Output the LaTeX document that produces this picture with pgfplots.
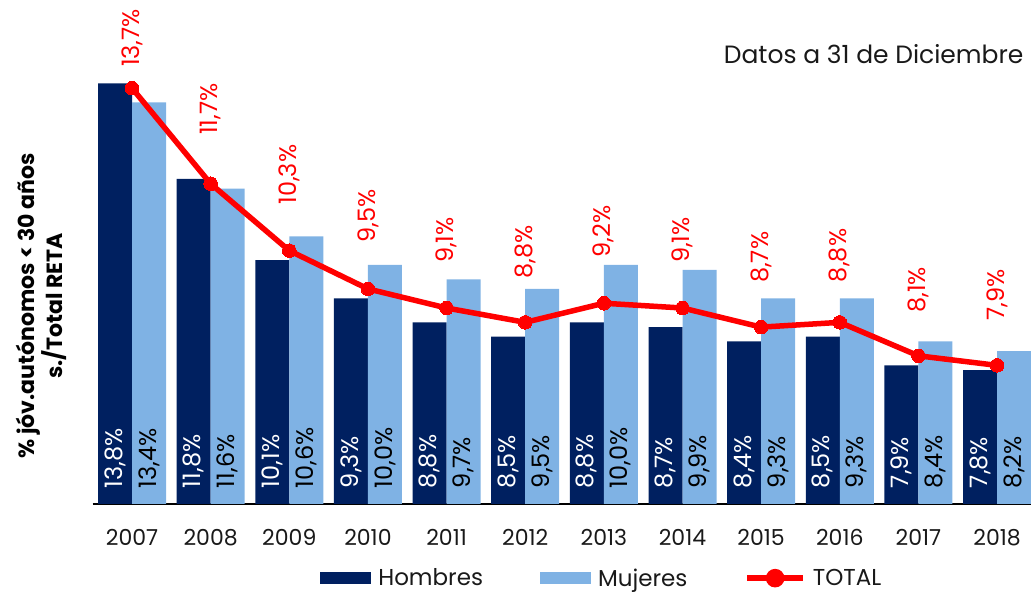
\documentclass[border=0pt]{standalone}
\usepackage{fontspec}
\setmainfont{Poppins}
\usepackage{pgfplots}
\usepackage{pgfplotstable}
\pgfplotsset{compat=1.18}
\definecolor{navy}{HTML}{002060}
\definecolor{lblue}{HTML}{7FB2E4}
\definecolor{rojo}{HTML}{FF0000}
\newcommand\fs{\fontsize{22}{27}\selectfont}
\newcommand\fl{\fontsize{23}{28}\selectfont}
\newcommand\fd{\fontsize{24}{28}\selectfont}
\newcommand\pct{\pgfmathprintnumber[fixed,fixed zerofill,precision=1,use comma,assume math mode=true]{\pgfplotspointmeta}\%}

\pgfplotstableread{
idx h m t
0 13.8 13.4 13.7
1 11.8 11.6 11.7
2 10.1 10.6 10.3
3 9.3 10.0 9.5
4 8.8 9.7 9.1
5 8.5 9.5 8.8
6 8.8 10.0 9.2
7 8.7 9.9 9.1
8 8.4 9.3 8.7
9 8.5 9.3 8.8
10 7.9 8.4 8.1
11 7.8 8.2 7.9
}\datos

% position (base) of the red TOTAL labels
\pgfplotstableread{
idx y t
0 14.14 13.7
1 12.72 11.7
2 11.26 10.3
3 10.46 9.5
4 10.04 9.1
5 9.71 8.8
6 10.15 9.2
7 10.04 9.1
8 9.62 8.7
9 9.64 8.8
10 9.00 8.1
11 8.83 7.9
}\etiq

\begin{document}
\begin{tikzpicture}
\useasboundingbox (0,0) rectangle (1031pt,596pt);
\clip (0,0) rectangle (1031pt,596pt);
\begin{axis}[
  at={(92.7pt,92pt)}, anchor=south west,
  scale only axis,
  x=78.64pt, y=47.8pt,
  xmin=-0.5, xmax=11.6, ymin=5, ymax=16,
  axis x line*=bottom, axis y line=none,
  axis line style={line width=1.6pt, black},
  xtick={0,...,11},
  xticklabels={2007,2008,2009,2010,2011,2012,2013,2014,2015,2016,2017,2018},
  major tick length=0pt,
  xticklabel style={font=\fs, anchor=base, yshift=-42pt, text=black!90},
  font=\fs,
  legend columns=3,
  legend style={at={(0.534,-0.141)}, anchor=center, draw=none, fill=none,
    font=\fl, inner sep=0pt,
    /tikz/every odd column/.append style={column sep=7pt},
    /tikz/every even column/.append style={column sep=57pt},
    nodes={inner sep=0pt, text=black!90}},
]
\addplot[ybar, bar width=34pt, bar shift=-17pt, fill=navy, draw=none,
  legend image code/.code={\fill[navy] (0pt,-6pt) rectangle (51pt,6pt);}]
  table[x=idx, y=h]{\datos};
\addlegendentry{Hombres}
\addplot[ybar, bar width=34pt, bar shift=17pt, fill=lblue, draw=none,
  legend image code/.code={\fill[lblue] (0pt,-6pt) rectangle (51pt,6pt);}]
  table[x=idx, y=m]{\datos};
\addlegendentry{Mujeres}
\addplot[rojo, line width=5.5pt, mark=*, mark size=6.8pt,
  mark options={fill=rojo, draw=rojo, line width=0pt},
  legend image code/.code={\draw[rojo, line width=5.5pt] (0pt,0pt) -- (56pt,0pt); \fill[rojo] (28pt,0pt) circle (6.5pt);}]
  table[x=idx, y=t]{\datos};
\addlegendentry{TOTAL}

% labels inside bars
\addplot[forget plot, draw=none, mark=none, point meta=explicit,
  nodes near coords=\pct,
  nodes near coords style={text=white, rotate=90, anchor=west, inner sep=0pt, font=\fd}]
  table[x expr=\thisrow{idx}-0.2162, y expr=5.33, meta=h]{\datos};
\addplot[forget plot, draw=none, mark=none, point meta=explicit,
  nodes near coords=\pct,
  nodes near coords style={text=black, rotate=90, anchor=west, inner sep=0pt, font=\fd}]
  table[x expr=\thisrow{idx}+0.2162, y expr=5.33, meta=m]{\datos};
% red TOTAL labels
\addplot[forget plot, draw=none, mark=none, point meta=explicit,
  nodes near coords=\pct,
  nodes near coords style={text=rojo, rotate=90, anchor=west, inner sep=0pt, font=\fd}]
  table[x=idx, y=y, meta=t]{\etiq};
\end{axis}
\node[anchor=base east, font=\fontsize{25}{30}\selectfont, text=black!90] at (1027pt,532pt) {Datos a 31 de Diciembre};
\node[rotate=90, align=center, font=\fontsize{22}{28}\selectfont\bfseries, text=black] at (41pt,290pt)
  {\% jóv.autónomos < 30 años\\ s./Total RETA};
\end{tikzpicture}
\end{document}
